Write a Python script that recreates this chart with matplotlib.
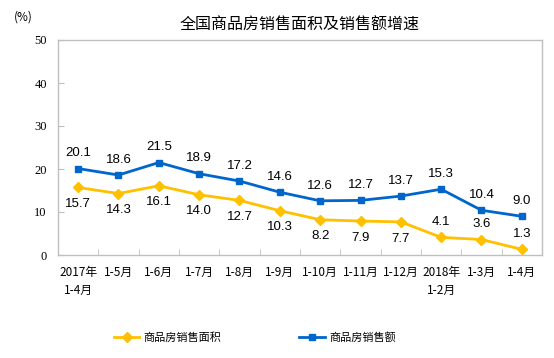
import matplotlib
matplotlib.use("Agg")
import matplotlib.pyplot as plt
import numpy as np

plt.rcParams['font.family'] = ['Noto Sans CJK SC', 'DejaVu Sans']

# data
months = ["2017年\n1-4月", "1-5月", "1-6月", "1-7月", "1-8月", "1-9月",
          "1-10月", "1-11月", "1-12月", "2018年\n1-2月", "1-3月", "1-4月"]
area = [15.7, 14.3, 16.1, 14.0, 12.7, 10.3, 8.2, 7.9, 7.7, 4.1, 3.6, 1.3]
sales = [20.1, 18.6, 21.5, 18.9, 17.2, 14.6, 12.6, 12.7, 13.7, 15.3, 10.4, 9.0]
area_label_above = [False] * 9 + [True] * 3

yellow = "#FFC000"
blue = "#0066CC"
grey = "#BFBFBF"

fig = plt.figure(figsize=(5.54, 3.58), dpi=100)
ax = fig.add_axes([58 / 554, 103 / 358, 484 / 554, 215 / 358])

x = np.arange(len(months))
ax.plot(x, area, color=yellow, lw=2, marker="D", ms=5, label="商品房销售面积")
ax.plot(x, sales, color=blue, lw=2, marker="s", ms=5, label="商品房销售额")

lab_font = dict(family=["Liberation Sans", "DejaVu Sans"], fontsize=9.5, color="#000000",
                ha="center", va="center")
for i, v in enumerate(sales):
    ax.annotate(f"{v:.1f}", (x[i], v), xytext=(0, 11), textcoords="offset points", **lab_font)
for i, v in enumerate(area):
    dy = 11 if area_label_above[i] else -12
    ax.annotate(f"{v:.1f}", (x[i], v), xytext=(0, dy), textcoords="offset points", **lab_font)

ax.set_xlim(-0.5, len(months) - 0.5)
ax.set_ylim(0, 50)
ax.set_yticks([0, 10, 20, 30, 40, 50])
ax.set_xticks(x)
ax.set_xticklabels(months, fontsize=8.5, linespacing=1.5)
ax.set_xticks(np.arange(-0.5, len(months), 1), minor=True)
ax.tick_params(axis="x", which="major", length=0, pad=8)
ax.tick_params(axis="x", which="minor", direction="in", length=4, color=grey)
ax.tick_params(axis="y", direction="in", length=4, color=grey, labelsize=9, pad=8)
for lbl in ax.get_yticklabels():
    lbl.set_family(["Liberation Serif", "DejaVu Serif"])
for s in ax.spines.values():
    s.set_color(grey)
    s.set_linewidth(1)

fig.text(300 / 554, 1 - 25 / 358, "全国商品房销售面积及销售额增速", ha="center", va="center",
         fontsize=11.5)
fig.text(23 / 554, 1 - 17 / 358, "(%)", ha="center", va="center", fontsize=8.5)

fig.legend(loc="center", bbox_to_anchor=(255 / 554, 20 / 358), ncol=2, frameon=False,
           fontsize=8, handlelength=2.3, columnspacing=7, handletextpad=0.4)

fig.savefig("out.png", dpi=100)
